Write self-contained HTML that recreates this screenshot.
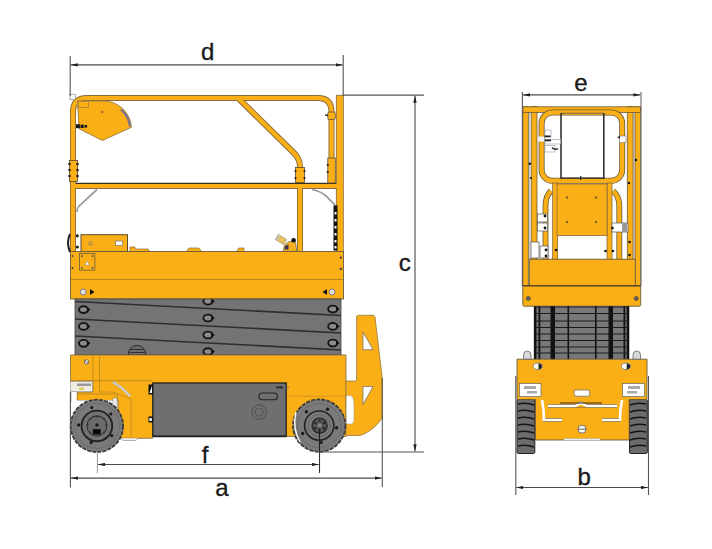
<!DOCTYPE html>
<html><head><meta charset="utf-8">
<style>
html,body{margin:0;padding:0;background:#fff;width:712px;height:549px;overflow:hidden}
svg{display:block}
text{font-family:"Liberation Sans",sans-serif;fill:#1a1a1a}
</style></head><body>
<svg width="712" height="549" viewBox="0 0 712 549">
<!-- ============ LEFT MACHINE ============ -->
<g id="left">
  <!-- right tall post -->
  <rect x="336.3" y="95.3" width="7" height="157" fill="#FBAF17" stroke="#8a6a3a" stroke-width="0.8"/>
  <!-- railings: dark outline then orange core -->
  <g fill="none" stroke="#8a6a3a" stroke-width="6" stroke-linejoin="round">
    <path d="M73,252 V112 Q73,98 87,98 H318 Q331.5,98 331.5,112 V186"/>
    <path d="M238,98 L294,153 Q300,159 300,167 V252"/>
    <path d="M73,186 H337"/>
  </g>
  <g fill="none" stroke="#FBAF17" stroke-width="4.2" stroke-linejoin="round">
    <path d="M73,252 V112 Q73,98 87,98 H318 Q331.5,98 331.5,112 V186"/>
    <path d="M238,98 L294,153 Q300,159 300,167 V252"/>
    <path d="M73,186 H337"/>
  </g>
  <!-- mid rail darker top -->
  <line x1="76" y1="183.3" x2="336" y2="183.3" stroke="#3a3020" stroke-width="1.2"/>
  <!-- cuffs -->
  <g fill="#FBAF17" stroke="#5a4a30" stroke-width="0.8">
    <rect x="69.5" y="160.5" width="8" height="21"/>
    <rect x="295.5" y="167.5" width="9" height="15"/>
    <rect x="327.8" y="158" width="7.5" height="25"/>
    <rect x="327.8" y="112" width="7.5" height="7.5" rx="1.5"/>
  </g>
  <g fill="#222">
    <circle cx="69.5" cy="164" r="1.3"/><circle cx="69.5" cy="170" r="1.3"/><circle cx="69.5" cy="176" r="1.3"/>
    <circle cx="77.5" cy="164" r="1.3"/><circle cx="77.5" cy="170" r="1.3"/><circle cx="77.5" cy="176" r="1.3"/>
    <circle cx="295.5" cy="171" r="1.1"/><circle cx="295.5" cy="178" r="1.1"/>
    <circle cx="304.5" cy="171" r="1.1"/><circle cx="304.5" cy="178" r="1.1"/>
    <circle cx="327.8" cy="165" r="1.1"/><circle cx="327.8" cy="172" r="1.1"/>
    <rect x="325" y="114.5" width="3" height="1.4"/>
  </g>
  <!-- grey struts -->
  <path d="M97,189.5 L79,206 Q77,208 77,212" fill="none" stroke="#9a9a9a" stroke-width="1.7"/>
  <path d="M312,189.5 Q320,191 326,196 L335.3,205.3" fill="none" stroke="#9a9a9a" stroke-width="1.7"/>
  <!-- white corner box -->
  <rect x="70" y="94.2" width="5.5" height="5.5" fill="#fff" stroke="#777" stroke-width="0.6"/>
  <!-- hopper -->
  <path d="M77.5,101 H102.5 A28,28 0 0 1 131.4,127.3 L102.3,140.5 L79,128.7 Z" fill="#FBAF17" stroke="#9a7a3a" stroke-width="0.9" stroke-linejoin="round"/>
  <path d="M121,109.5 A27,27 0 0 1 130,126.5" fill="none" stroke="#7a7090" stroke-width="2.2"/>
  <rect x="78" y="101" width="10.4" height="6.6" fill="none" stroke="#9a7a3a" stroke-width="0.7"/>
  <circle cx="102.3" cy="112" r="1.2" fill="#a07020"/>
  <rect x="76" y="124.2" width="4" height="4" fill="#1a1a1a"/>
  <rect x="80.5" y="124.6" width="3.2" height="3.4" fill="#1a1a1a"/>
  <rect x="84.5" y="125" width="2.6" height="2.6" fill="#1a1a1a"/>
  <!-- right post ladder chain -->
  <rect x="333.5" y="205.5" width="4" height="45" fill="#111"/>
  <g fill="#fff">
    <rect x="334.5" y="212" width="2" height="2.5"/><rect x="334.5" y="219" width="2" height="2.5"/>
    <rect x="334.5" y="226" width="2" height="2.5"/><rect x="334.5" y="233" width="2" height="2.5"/>
    <rect x="334.5" y="240" width="2" height="2.5"/><rect x="334.5" y="246" width="2" height="2.5"/>
  </g>
  <!-- control box -->
  <rect x="81" y="234.7" width="46.5" height="17" fill="#FBAF17" stroke="#5a4a30" stroke-width="1"/>
  <circle cx="90.5" cy="243.5" r="1.8" fill="none" stroke="#777" stroke-width="0.8"/>
  <rect x="115.5" y="241" width="7" height="4.5" fill="#fff" stroke="#777" stroke-width="0.7"/>
  <path d="M70,234 Q66,243 70,252" fill="none" stroke="#222" stroke-width="2"/>
  <circle cx="77.3" cy="235.8" r="1.6" fill="#222"/><circle cx="77.3" cy="247" r="1.6" fill="#222"/>
  <!-- deck bumps -->
  <path d="M130,252 V247 H135 V249 H148 L150,252 Z" fill="#FBAF17" stroke="#8a6a3a" stroke-width="0.7"/>
  <path d="M186,252 L189,248 H199 L202,252 Z" fill="#FBAF17" stroke="#8a6a3a" stroke-width="0.7"/>
  <path d="M236,252 L239,248 H244 V252 Z" fill="#FBAF17" stroke="#8a6a3a" stroke-width="0.7"/>
  <!-- nozzle -->
  <path d="M283,252 L284.5,245 L289,241.5 L295.5,242 L297,252 Z" fill="#F2B020" stroke="#555" stroke-width="0.6"/>
  <rect x="276" y="236.5" width="10" height="6" transform="rotate(32 281 239.5)" fill="#E9C060" stroke="#999" stroke-width="0.6"/>
  <rect x="276" y="236.5" width="2.5" height="6" transform="rotate(32 281 239.5)" fill="#c8c0a8"/>
  <path d="M285,246 L288.5,244.5 L288.5,249.5 L284.5,249.5 Z" fill="#3e3450"/>
  <circle cx="293.6" cy="240.3" r="2.3" fill="#111"/>
  <!-- deck -->
  <rect x="70.5" y="251.5" width="273" height="47.5" fill="#FBAF17" stroke="#6a5a3a" stroke-width="0.9"/>
  <line x1="71" y1="279.5" x2="343" y2="279.5" stroke="#B88420" stroke-width="1.2"/>
  <rect x="79.6" y="253.5" width="15.3" height="16.7" fill="#FBAF17" stroke="#6a5a3a" stroke-width="0.8"/>
  <g fill="#555"><circle cx="82" cy="256" r="1"/><circle cx="92.5" cy="256" r="1"/><circle cx="82" cy="268" r="1"/><circle cx="92.5" cy="268" r="1"/></g>
  <path d="M85,265 L87.2,261 L89.4,265 Z" fill="#fff" stroke="#888" stroke-width="0.5"/>
  <circle cx="72.5" cy="256" r="1" fill="#444"/><circle cx="72.5" cy="268" r="1" fill="#444"/>
  <circle cx="83.2" cy="292" r="3" fill="#ddd" stroke="#666" stroke-width="0.8"/>
  <path d="M90,289 L94.5,292 L90,295 Z" fill="#111"/>
  <circle cx="332" cy="292" r="3" fill="#ddd" stroke="#666" stroke-width="0.8"/>
  <path d="M327,289 L322.5,292 L327,295 Z" fill="#111"/>
  <circle cx="340.8" cy="257.6" r="1.2" fill="#444"/><circle cx="340.8" cy="269" r="1.2" fill="#444"/>
  <!-- scissor -->
  <rect x="75" y="299" width="266" height="56" fill="#747474" stroke="#444" stroke-width="0.8"/>
  <g stroke="#2e2e2e" stroke-width="1.6">
    <line x1="75" y1="301.5" x2="341" y2="315.5"/>
    <line x1="75" y1="319" x2="341" y2="333"/>
    <line x1="75" y1="336" x2="341" y2="350"/>
  </g>
  <g fill="#8a8a8a" stroke="#161616" stroke-width="1.9">
    <ellipse cx="83.6" cy="309.6" rx="4.6" ry="3.4"/>
    <path d="M86.8,307.3 L90.6,309.6 L86.8,311.90000000000003 Z" fill="#111" stroke="none"/>
    <ellipse cx="83.6" cy="326.4" rx="4.6" ry="3.4"/>
    <path d="M86.8,324.09999999999997 L90.6,326.4 L86.8,328.7 Z" fill="#111" stroke="none"/>
    <ellipse cx="83.6" cy="343.3" rx="4.6" ry="3.4"/>
    <path d="M86.8,341.0 L90.6,343.3 L86.8,345.6 Z" fill="#111" stroke="none"/>
    <ellipse cx="208" cy="301.2" rx="4.6" ry="3.4"/>
    <path d="M211.2,298.9 L215,301.2 L211.2,303.5 Z" fill="#111" stroke="none"/>
    <ellipse cx="208" cy="318" rx="4.6" ry="3.4"/>
    <path d="M211.2,315.7 L215,318 L211.2,320.3 Z" fill="#111" stroke="none"/>
    <ellipse cx="208" cy="335" rx="4.6" ry="3.4"/>
    <path d="M211.2,332.7 L215,335 L211.2,337.3 Z" fill="#111" stroke="none"/>
    <ellipse cx="208" cy="351.6" rx="4.6" ry="3.4"/>
    <path d="M211.2,349.3 L215,351.6 L211.2,353.90000000000003 Z" fill="#111" stroke="none"/>
    <ellipse cx="332.8" cy="309" rx="4.6" ry="3.4"/>
    <path d="M336.0,306.7 L339.8,309 L336.0,311.3 Z" fill="#111" stroke="none"/>
    <ellipse cx="332.8" cy="326.4" rx="4.6" ry="3.4"/>
    <path d="M336.0,324.09999999999997 L339.8,326.4 L336.0,328.7 Z" fill="#111" stroke="none"/>
    <ellipse cx="332.8" cy="343" rx="4.6" ry="3.4"/>
    <path d="M336.0,340.7 L339.8,343 L336.0,345.3 Z" fill="#111" stroke="none"/>
  </g>
  <rect x="198" y="294" width="20" height="4.6" fill="#FBAF17"/>
  <line x1="198" y1="298.9" x2="218" y2="298.9" stroke="#6a5a3a" stroke-width="0.9"/>
  <path d="M128,355 Q129,346 137,345.5 Q145,346 146,355 Z" fill="#6e6e6e" stroke="#1e1e1e" stroke-width="0.9"/>
  <path d="M130.5,349.5 H143.5 M129.5,352.5 H144.5" stroke="#1e1e1e" stroke-width="0.8"/>
  <!-- chassis -->
  <path d="M70.5,355 H346 V436.5 H152.5 V438.3 H118 V400 H77.3 V392 H92.6 V381 H70.5 Z" fill="#FBAF17" stroke="#7a6a4a" stroke-width="0.8"/>
  <line x1="71" y1="380.7" x2="152" y2="380.7" stroke="#B88420" stroke-width="0.9"/>
  <line x1="287" y1="396.2" x2="345.5" y2="396.2" stroke="#C88E1E" stroke-width="0.8"/>
  <line x1="93" y1="356" x2="93" y2="392" stroke="#B88420" stroke-width="0.8"/>
  <line x1="99.5" y1="356" x2="99.5" y2="392" stroke="#B88420" stroke-width="0.8"/>
  <circle cx="86.5" cy="362" r="2.2" fill="#fff" stroke="#444" stroke-width="0.7"/>
  <path d="M84.8,360.5 L88.2,363.5" stroke="#222" stroke-width="0.8"/>
  <rect x="70.7" y="381.5" width="21.9" height="10.2" fill="#f0ece0" stroke="#8a8a8a" stroke-width="0.6"/>
  <rect x="77" y="383.5" width="14" height="2.5" fill="#999"/>
  <rect x="79" y="387.5" width="5" height="2.5" fill="#d8d060"/>
  <line x1="71" y1="392" x2="71" y2="402" stroke="#999" stroke-width="0.8"/>
  <path d="M77.3,400 V396 Q77.3,394 79.5,394 H117.4 V400" fill="#FBAF17" stroke="#B88420" stroke-width="0.8"/>
  <path d="M99.5,392 H113 L131,399 V438" fill="none" stroke="#B88420" stroke-width="0.7"/>
  <path d="M113,382 Q122,387 130,396" fill="none" stroke="#eee" stroke-width="2.4"/>
  <path d="M113,381.5 Q122,386.5 130.5,395.5" fill="none" stroke="#666" stroke-width="0.6"/>
  <path d="M112.5,383 Q121,388 129.5,397" fill="none" stroke="#888" stroke-width="0.5"/>
  <rect x="113" y="398" width="4" height="9" fill="#eee" stroke="#777" stroke-width="0.5"/>
  <path d="M120,438.3 L123,440.5 H136 L138,438.3" fill="#eee" stroke="#888" stroke-width="0.6"/>
  <!-- battery box -->
  <rect x="152.8" y="383" width="133.4" height="53.2" fill="#6E6F71" stroke="#1e1e1e" stroke-width="1.3"/>
  <line x1="153" y1="436.6" x2="286" y2="436.6" stroke="#222" stroke-width="1.5"/>
  <rect x="148.5" y="384.5" width="4.5" height="10" fill="#111"/><path d="M149.5,393 L152,386 V393 Z" fill="#fff"/>
  <rect x="148.5" y="416.5" width="4.5" height="6" fill="#111"/><rect x="149.3" y="418" width="2.6" height="3" fill="#eee"/>
  <rect x="259" y="393" width="18.3" height="6.7" rx="3.3" fill="#6E6F71" stroke="#222" stroke-width="1.1"/>
  <circle cx="259.1" cy="412.2" r="7.3" fill="none" stroke="#4e4e4e" stroke-width="1"/>
  <circle cx="259.1" cy="412.2" r="4" fill="none" stroke="#4e4e4e" stroke-width="0.9"/>
  <rect x="276" y="386.3" width="7" height="2.2" fill="#333"/>
  <ellipse cx="286.5" cy="387.3" rx="2.3" ry="1.2" fill="none" stroke="#666" stroke-width="0.6"/>
  <!-- tow bracket -->
  <path d="M346,381 H356.6 V317 Q356.6,315.3 358.6,315.3 H373 Q374.4,315.3 375,317 L382,376 V418 Q376,428 364,434 Q361.5,435.5 358,435.5 H346 Z" fill="#FBAF17" stroke="#9a7a3a" stroke-width="0.8"/>
  <path d="M363,332 V349.7 H373 Z" fill="#fff" stroke="#666" stroke-width="0.7"/>
  <path d="M363,386.6 H373 L363,404.5 Z" fill="#fff" stroke="#666" stroke-width="0.7"/>
  <path d="M346.3,395.5 H351 Q354,398 354,404 V418 Q354,424 351,424 H346.3 Z" fill="#fff" stroke="#999" stroke-width="0.5"/>
  
  <!-- wheels -->
  <g>
    <circle cx="96.9" cy="425.9" r="26.2" fill="#7a7a7a" stroke="#3c3c3c" stroke-width="1.8" stroke-dasharray="4 1.2"/>
    <circle cx="96.9" cy="425.9" r="22.5" fill="none" stroke="#666" stroke-width="0.7"/>
    <circle cx="96.9" cy="425.9" r="15.3" fill="#727272" stroke="#222" stroke-width="1.9"/>
    <circle cx="96.9" cy="425.9" r="10" fill="#6a6a6a" stroke="#333" stroke-width="1.1"/>
    <rect x="92.8" y="429.2" width="7.9" height="5.3" fill="#0a0a0a"/>
    <circle cx="97" cy="425" r="1.7" fill="#1a1a1a"/>
    <g fill="#1a1a1a"><circle cx="78.6" cy="425" r="1.7"/><circle cx="91.8" cy="407.6" r="1.6"/><circle cx="110.8" cy="413.9" r="1.6"/><circle cx="111.8" cy="435.6" r="1.6"/><circle cx="91.2" cy="442.4" r="1.6"/></g>
    <g fill="#333"><circle cx="87.5" cy="425" r="1.1"/><circle cx="106.3" cy="425" r="1.1"/><circle cx="96.9" cy="416.5" r="1.1"/><circle cx="90" cy="419" r="1"/><circle cx="104" cy="419" r="1"/><circle cx="90" cy="432.5" r="1"/><circle cx="104" cy="432.5" r="1"/></g>
  </g>
  <g>
    <circle cx="319.2" cy="425.6" r="26.2" fill="#7a7a7a" stroke="#3c3c3c" stroke-width="1.8" stroke-dasharray="4 1.2"/>
    <path d="M296,412 Q292,428 300,442" fill="none" stroke="#fff" stroke-width="1.4"/>
    <circle cx="319.2" cy="425.6" r="22" fill="none" stroke="#666" stroke-width="0.7"/>
    <circle cx="319.2" cy="425.6" r="14.6" fill="#7a7a7a" stroke="#222" stroke-width="1.6"/>
    <circle cx="319.2" cy="425.6" r="11" fill="none" stroke="#5a5a5a" stroke-width="0.7"/>
    <circle cx="319.6" cy="425.6" r="7.6" fill="#555" stroke="#222" stroke-width="1.2"/>
    <g fill="#222"><circle cx="319.6" cy="420.6" r="1.2"/><circle cx="324" cy="423" r="1.2"/><circle cx="324" cy="428.3" r="1.2"/><circle cx="319.6" cy="430.6" r="1.2"/><circle cx="315.2" cy="428.3" r="1.2"/><circle cx="315.2" cy="423" r="1.2"/></g>
    <circle cx="319.6" cy="425.6" r="2" fill="#888"/>
    <g fill="#1a1a1a"><circle cx="306.4" cy="411.8" r="1.7"/><circle cx="327.5" cy="409.2" r="1.7"/><circle cx="336.5" cy="427.7" r="1.7"/><circle cx="302.7" cy="433.5" r="1.7"/><circle cx="321.2" cy="442.5" r="1.6"/></g>
    <line x1="319.5" y1="428" x2="319.5" y2="452" stroke="#1e1e1e" stroke-width="1.1"/>
  </g>
</g>

<!-- ============ LEFT DIMENSIONS ============ -->
<defs>
  <marker id="ar" viewBox="0 0 7 3.6" refX="7" refY="1.8" markerWidth="7" markerHeight="3.6" markerUnits="userSpaceOnUse" orient="auto-start-reverse">
    <path d="M0,0.1 L7,1.8 L0,3.5 Z" fill="#222"/>
  </marker>
</defs>
<g stroke="#555" stroke-width="1.1" fill="none">
  <line x1="70.2" y1="56" x2="70.2" y2="96"/>
  <line x1="343.2" y1="55" x2="343.2" y2="96"/>
  <line x1="343" y1="95.1" x2="424" y2="95.1"/>
  <line x1="319.5" y1="452" x2="424" y2="452"/>
  <line x1="70.4" y1="392" x2="70.4" y2="487.6"/>
  <line x1="382.3" y1="378" x2="382.3" y2="487"/>
</g>
<g stroke="#999" stroke-width="1" fill="none">
  <line x1="97.4" y1="452" x2="97.4" y2="473"/>
</g>
<line x1="319.5" y1="452" x2="319.5" y2="473" stroke="#333" stroke-width="1.1"/>
<g stroke="#4a4a4a" stroke-width="1.1" fill="none" marker-start="url(#ar)" marker-end="url(#ar)">
  <line x1="70.8" y1="64.9" x2="342.6" y2="64.9"/>
  <line x1="415" y1="95.7" x2="415" y2="451.2"/>
  <line x1="98" y1="464.5" x2="318.8" y2="464.5"/>
  <line x1="71" y1="478.1" x2="381.7" y2="478.1"/>
</g>
<g stroke="#1a1a1a" stroke-width="0.35">
<text x="207.7" y="60" font-size="24" text-anchor="middle">d</text>
<text x="404.7" y="271" font-size="24" text-anchor="middle">c</text>
<text x="205" y="463" font-size="24" text-anchor="middle">f</text>
<text x="222" y="496" font-size="24" text-anchor="middle">a</text>
</g>

<!-- ============ RIGHT MACHINE ============ -->
<g id="right">
  <!-- outer posts -->
  <g fill="#FBAF17" stroke="#6a5a3a" stroke-width="0.8">
    <rect x="522.8" y="106.8" width="5.5" height="179.5"/>
    <rect x="635" y="106.8" width="5.7" height="179.5"/>
    <rect x="531.2" y="106.5" width="5.8" height="153"/>
    <rect x="627.3" y="106.5" width="5.8" height="153"/>
  </g>
  <g stroke="#999" stroke-width="0.6" fill="none">
    <line x1="529.6" y1="112" x2="529.6" y2="259"/>
    <line x1="634" y1="112" x2="634" y2="259"/>
  </g>
  <line x1="522.4" y1="92" x2="522.4" y2="286" stroke="#555" stroke-width="1.1"/>
  <line x1="641" y1="92" x2="641" y2="286" stroke="#777" stroke-width="1.2"/>
  <!-- top rail -->
  <rect x="523" y="106.8" width="117.5" height="5.6" fill="#FBAF17" stroke="#6a5a3a" stroke-width="0.8"/>
  <!-- gate rounded rect -->
  <rect x="541.6" y="112.5" width="80.6" height="68.3" rx="11" fill="none" stroke="#6a5a3a" stroke-width="6"/>
  <rect x="541.6" y="112.5" width="80.6" height="68.3" rx="11" fill="none" stroke="#FBAF17" stroke-width="4.4"/>
  <!-- inner panel outline -->
  <line x1="561" y1="113" x2="561" y2="179" stroke="#262626" stroke-width="1.5"/>
  <line x1="603.8" y1="113" x2="603.8" y2="179" stroke="#262626" stroke-width="1.5"/>
  <rect x="580" y="176" width="1.3" height="4" fill="#333"/>
  <line x1="561" y1="178.2" x2="603.8" y2="178.2" stroke="#262626" stroke-width="1.2"/>
  <line x1="561" y1="113.2" x2="603.8" y2="113.2" stroke="#555" stroke-width="0.8"/>
  <!-- latches top -->
  <rect x="545" y="130" width="6" height="7" fill="#fff" stroke="#999" stroke-width="0.6"/>
  <rect x="545" y="139.5" width="15.5" height="4.5" fill="#fff" stroke="#999" stroke-width="0.6"/>
  <rect x="545" y="145.5" width="10" height="6.5" fill="#fff" stroke="#999" stroke-width="0.6"/>
  <rect x="544.5" y="135.5" width="6" height="1.6" fill="#222"/>
  <rect x="545" y="139.5" width="6" height="1.8" fill="#222"/>
  <path d="M552,147.5 Q555,150.5 558,148.5" fill="none" stroke="#222" stroke-width="1.5"/>
  <rect x="538" y="136.5" width="6" height="5" fill="#f4f4ff"/>
  <rect x="619.3" y="136" width="6.7" height="6.5" fill="#fff" stroke="#777" stroke-width="0.6"/>
  <path d="M617,137 L620,136 L620,139 Z" fill="#222"/>
  <!-- curved side posts -->
  <g fill="none" stroke="#6a5a3a" stroke-width="5.8">
    <path d="M551,191 Q545.5,196 545.5,206 V260"/>
    <path d="M613,191 Q619.3,196 619.3,206 V260"/>
  </g>
  <g fill="none" stroke="#FBAF17" stroke-width="4.2">
    <path d="M551,191 Q545.5,196 545.5,206 V260"/>
    <path d="M613,191 Q619.3,196 619.3,206 V260"/>
  </g>
  <!-- center bars -->
  <rect x="552.7" y="183" width="5" height="77" fill="#FBAF17" stroke="#6a5a3a" stroke-width="0.7"/>
  <rect x="607" y="183" width="5" height="77" fill="#FBAF17" stroke="#6a5a3a" stroke-width="0.7"/>
  <!-- center plate -->
  <rect x="557" y="184" width="50" height="51.6" fill="#FBAF17" stroke="#8a6a3a" stroke-width="0.8"/>
  <g fill="#8a6020"><circle cx="567" cy="197.5" r="1.2"/><circle cx="596" cy="197.5" r="1.2"/><circle cx="567" cy="222" r="1.2"/><circle cx="596" cy="222" r="1.2"/></g>
  <!-- latches mid -->
  <g fill="#fff" stroke="#555" stroke-width="0.7">
    <rect x="537.5" y="214" width="10" height="8"/><rect x="537.5" y="223" width="10" height="8"/>
    <rect x="531" y="242" width="8" height="16"/><rect x="540" y="246" width="8" height="12"/>
    <rect x="612" y="223" width="16" height="9"/>
  </g>
  <rect x="622" y="223" width="5" height="9" fill="#999"/>
  <g fill="#111">
    <circle cx="545" cy="216" r="1.4"/><circle cx="545" cy="228" r="1.4"/><circle cx="546" cy="250" r="1.4"/><circle cx="546" cy="256" r="1.4"/><circle cx="556" cy="250" r="1.3"/>
    <circle cx="612.5" cy="228" r="1.3"/><circle cx="605.5" cy="251" r="1.3"/><circle cx="613" cy="251" r="1.3"/>
    <circle cx="529.8" cy="163.8" r="1.3"/><circle cx="629.5" cy="242" r="1.3"/><circle cx="629.5" cy="255" r="1.3"/>
    <circle cx="629" cy="183" r="1.2"/><circle cx="636" cy="160" r="1.2"/><circle cx="531" cy="178" r="1.1"/>
  </g>
  <!-- deck -->
  <rect x="529.3" y="259.2" width="106" height="26.5" fill="#FBAF17" stroke="#6a5a3a" stroke-width="0.9"/>
  <rect x="522.8" y="285.6" width="117.9" height="20.6" rx="1.5" fill="#FBAF17" stroke="#6a5a3a" stroke-width="0.9"/>
  <line x1="523" y1="285.8" x2="640.5" y2="285.8" stroke="#5a4a2a" stroke-width="1.4"/>
  <circle cx="528.3" cy="298.5" r="2" fill="#666" stroke="#333" stroke-width="0.6"/>
  <circle cx="636.3" cy="298.5" r="2" fill="#666" stroke="#333" stroke-width="0.6"/>
  <!-- scissor stack -->
  <rect x="533.9" y="306.2" width="95.3" height="53.4" fill="#787878"/>
  <g fill="#111">
    <rect x="533.9" y="306.2" width="2.5" height="53.4"/><rect x="538.5" y="306.2" width="1.8" height="53.4"/>
    <rect x="550.5" y="306.2" width="4.5" height="53.4"/>
    <rect x="567.5" y="306.2" width="1.6" height="53.4"/><rect x="595" y="306.2" width="1.6" height="53.4"/>
    <rect x="608.5" y="306.2" width="4.5" height="53.4"/>
    <rect x="623.5" y="306.2" width="1.8" height="53.4"/><rect x="626.7" y="306.2" width="2.5" height="53.4"/>
  </g>
  <g stroke="#1a1a1a" stroke-width="1.2">
    <line x1="534" y1="307" x2="629" y2="307"/>
    <line x1="534" y1="313.5" x2="629" y2="313.5"/>
    <line x1="534" y1="321" x2="629" y2="321"/>
    <line x1="534" y1="327.5" x2="629" y2="327.5"/>
    <line x1="534" y1="334" x2="629" y2="334"/>
    <line x1="534" y1="340.5" x2="629" y2="340.5"/>
    <line x1="534" y1="347" x2="629" y2="347"/>
    <line x1="534" y1="353" x2="629" y2="353"/>
  </g>
  <!-- tires -->
  <g>
    <rect x="517" y="399.5" width="17.8" height="54" rx="1.5" fill="#6c6c6c" stroke="#222" stroke-width="1"/>
    <rect x="629.5" y="399.5" width="17.8" height="54" rx="1.5" fill="#6c6c6c" stroke="#222" stroke-width="1"/>
    <g stroke="#141414" stroke-width="1.6" fill="none">
      <path d="M518,404 Q526,402 534,405"/><path d="M518,411 Q526,409 534,412"/><path d="M518,418 Q526,416 534,419"/>
      <path d="M518,425 Q526,423 534,426"/><path d="M518,432 Q526,430 534,433"/><path d="M518,439 Q526,437 534,440"/><path d="M518,446 Q526,444 534,447"/>
      <path d="M630,405 Q638,402 646,404"/><path d="M630,412 Q638,409 646,411"/><path d="M630,419 Q638,416 646,418"/>
      <path d="M630,426 Q638,423 646,425"/><path d="M630,433 Q638,430 646,432"/><path d="M630,440 Q638,437 646,439"/><path d="M630,447 Q638,444 646,446"/>
    </g>
  </g>
  <!-- chassis -->
  <path d="M517,359.2 H647 V399.5 H629.2 V440 H535.5 V399.5 H517 Z" fill="#FBAF17" stroke="#6a5a3a" stroke-width="0.9"/>
  <g fill="#fff" stroke="#666" stroke-width="0.7">
    <path d="M523.5,359.2 V355 Q523.5,351 527.2,351 Q531,351 531,355 V359.2 Z" fill="#d8d8d8" stroke="#555"/><path d="M633,359.2 V355 Q633,351 636.7,351 Q640.5,351 640.5,355 V359.2 Z" fill="#d8d8d8" stroke="#555"/>
    <ellipse cx="537.8" cy="366.3" rx="4.6" ry="3.2"/><ellipse cx="626" cy="366.3" rx="4.6" ry="3.2"/>
    <rect x="519.5" y="383.6" width="21.5" height="13"/><rect x="622.5" y="383.6" width="22" height="13"/>
    <rect x="574.2" y="390" width="15.5" height="6.2" rx="2"/>
  </g>
  <g fill="#aaa" stroke="none">
    <rect x="524" y="386" width="12" height="3"/><rect x="527" y="391" width="10" height="2.5"/>
    <rect x="628" y="386" width="12" height="3"/><rect x="627" y="391" width="10" height="2.5"/>
  </g>
  <g fill="#222"><path d="M538.5,363.2 A4.6,3.2 0 0 1 538.5,369.4 Z"/><path d="M626.7,363.2 A4.6,3.2 0 0 1 626.7,369.4 Z"/></g>
  <g fill="none" stroke="#fff" stroke-width="2.6">
    <path d="M548,406 H575 L581,403 L587,406 H617"/>
    <path d="M542,400 Q544,410 544,420 H562"/>
    <path d="M622,400 Q620,410 620,420 H602"/>
  </g>
  <g fill="none" stroke="#666" stroke-width="0.6">
    <path d="M548,404.5 H575 L581,401.5 L587,404.5 H617"/>
    <path d="M548,407.5 H617"/>
    <path d="M562,418.5 H545.5 M562,421.5 H543"/>
    <path d="M602,418.5 H618.5 M602,421.5 H621"/>
  </g>
  <line x1="560" y1="403" x2="602" y2="403" stroke="#3a2a1a" stroke-width="1"/>
  <circle cx="582" cy="429.2" r="4" fill="#fff" stroke="#555" stroke-width="0.8"/>
  <line x1="578" y1="429.2" x2="586" y2="429.2" stroke="#333" stroke-width="0.8"/>
  <rect x="564" y="438.5" width="36" height="2" fill="#eee" stroke="#999" stroke-width="0.4"/>
</g>
<g stroke="#555" stroke-width="1.1" fill="none">
  <line x1="515.8" y1="376" x2="515.8" y2="495"/>
  <line x1="648.5" y1="376" x2="648.5" y2="495"/>
</g>
<g stroke="#4a4a4a" stroke-width="1.1" fill="none" marker-start="url(#ar)" marker-end="url(#ar)">
  <line x1="523" y1="94.9" x2="640.4" y2="94.9"/>
  <line x1="516.4" y1="487.5" x2="647.9" y2="487.5"/>
</g>
<g stroke="#1a1a1a" stroke-width="0.35">
<text x="581" y="91" font-size="24" text-anchor="middle">e</text>
<text x="584.2" y="485" font-size="24" text-anchor="middle">b</text>
</g>
</svg>
</body></html>
